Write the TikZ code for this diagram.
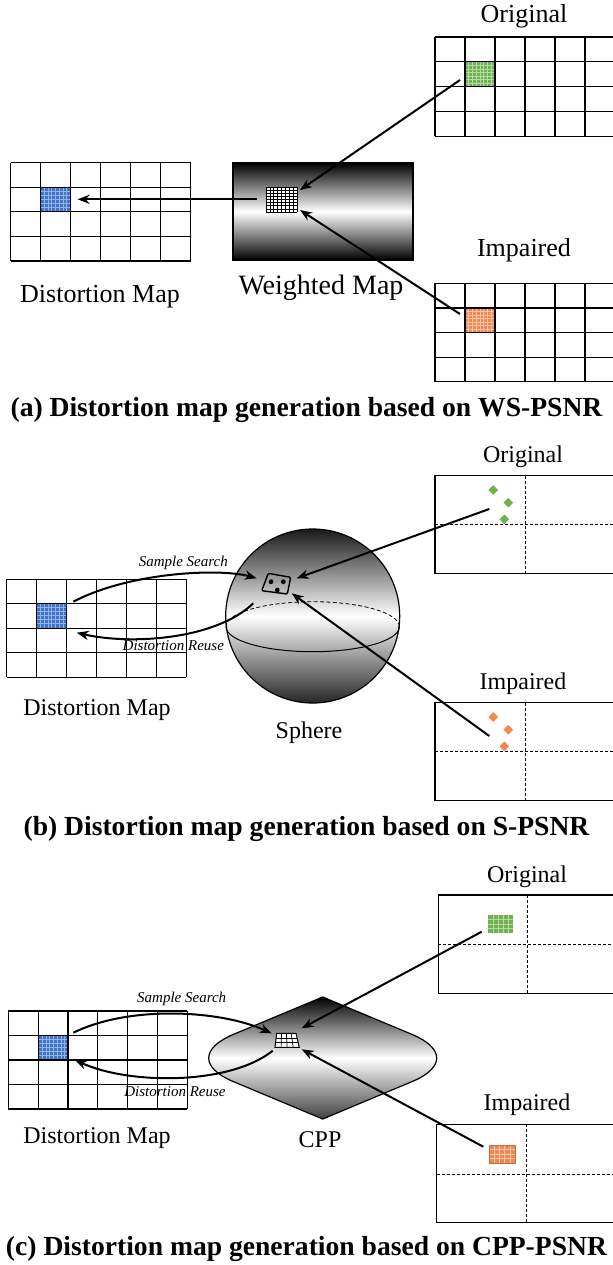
\documentclass[tikz,border=0pt]{standalone}
\usepackage{fontspec}
\setmainfont{Liberation Serif}
\usetikzlibrary{arrows.meta,shapes.geometric,calc}

\definecolor{cellblue}{RGB}{62,116,204}
\definecolor{cellgreen}{RGB}{112,178,78}
\definecolor{cellorange}{RGB}{240,136,80}

% 6 x 4 map grid: top-left x, y, column width, row height
\newcommand{\mapgrid}[4]{%
  \foreach \i in {0,...,6} \draw[gridline] ({#1+\i*#3},#2) -- ({#1+\i*#3},{#2+4*#4});
  \foreach \j in {0,...,4} \draw[gridline] (#1,{#2+\j*#4}) -- ({#1+6*#3},{#2+\j*#4});
}
% filled block with a fine grid: x, y, w, h, fill, line colour, inner lines x, inner lines y
\newcommand{\finepatch}[8]{%
  \fill[#5] (#1,#2) rectangle ++(#3,#4);
  \foreach \k in {1,...,#7} \draw[#6,line width=0.3pt] ({#1+\k*#3/(#7+1)},#2) -- ++(0,#4);
  \foreach \k in {1,...,#8} \draw[#6,line width=0.3pt] (#1,{#2+\k*#4/(#8+1)}) -- ++(#3,0);
}

\begin{document}
\begin{tikzpicture}[x=0.5pt,y=-0.5pt,
    gridline/.style={draw=black, line width=0.6pt},
    framebox/.style={draw=black, line width=0.6pt},
    cutline/.style={black, line width=0.5pt, dash pattern=on 1.5pt off 1pt},
    arrowline/.style={-{Stealth[length=6pt,width=4.6pt]}, line width=1pt},
    labeltext/.style={font=\fontsize{12}{14}\selectfont},
    labelbig/.style={font=\fontsize{13}{15}\selectfont},
    smalltext/.style={font=\fontsize{7.5}{9}\selectfont\itshape},
    captiontext/.style={font=\fontsize{13.8}{16}\selectfont\bfseries},
    greensample/.style={diamond, fill=cellgreen, inner sep=0pt, minimum size=5pt},
    orangesample/.style={diamond, fill=cellorange, inner sep=0pt, minimum size=5pt}]
\useasboundingbox (0,0) rectangle (613,1265);

% ---------- (a) WS-PSNR ----------
\node[labelbig] (origLabA) at (524,16) {Original};
\finepatch{465}{61.8}{30}{24.8}{cellgreen}{cellgreen!50!white}{7}{6}
\mapgrid{435}{37}{30}{24.8}
\node[labelbig] (impLabA) at (524,250) {Impaired};
\finepatch{465}{307.9}{30}{24.6}{cellorange}{cellorange!50!white}{7}{6}
\mapgrid{435}{283.3}{30}{24.6}

\finepatch{40.5}{187.1}{30}{24.6}{cellblue}{cellblue!55!white}{7}{5}
\mapgrid{10.5}{162.5}{30}{24.6}
\node[labelbig] (distLabA) at (100,297) {Distortion Map};

\node[draw, line width=0.7pt, top color=black, bottom color=black, middle color=white,
  minimum width=90pt, minimum height=48.5pt, inner sep=0pt] (wmap) at (323,211.5) {};
\fill[white] (266,187) rectangle (297,212);
\foreach \k in {0,...,8} \draw[line width=0.35pt] ({266+\k*31/8},187) -- ++(0,25);
\foreach \k in {0,...,8} \draw[line width=0.35pt] (266,{187+\k*25/8}) -- ++(31,0);
\node[font=\fontsize{14}{16}\selectfont] (wmapLab) at (321,288) {Weighted Map};

\coordinate (wmOut) at (256.7,199.3);
\coordinate (distInA) at (77.7,199.3);
\coordinate (origOutA) at (460,80);
\coordinate (wmInTop) at (300,190);
\coordinate (impOutA) at (460,314);
\coordinate (wmInBot) at (300,210);
\draw[arrowline] (wmOut) -- (distInA);
\draw[arrowline] (origOutA) -- (wmInTop);
\draw[arrowline] (impOutA) -- (wmInBot);

\node[captiontext] (capA) at (306.5,410) {(a) Distortion map generation based on WS-PSNR};

% ---------- (b) S-PSNR ----------
\node[labeltext] (origLabB) at (523,457) {Original};
\draw[framebox] (625,475.7) -- (435,475.7) -- (435,573.3) -- (625,573.3);
\draw[cutline] (525,475.7) -- (525,573.3);
\draw[cutline] (435,524.3) -- (625,524.3);
\node[greensample] (gs1) at (493.3,490) {};
\node[greensample] (gs2) at (508.3,502.7) {};
\node[greensample] (gs3) at (504.3,519.3) {};

\node[labeltext] (impLabB) at (523,684) {Impaired};
\draw[framebox] (625,702.7) -- (435,702.7) -- (435,800.3) -- (625,800.3);
\draw[cutline] (525,702.7) -- (525,800.3);
\draw[cutline] (435,751.3) -- (625,751.3);
\node[orangesample] (os1) at (493.3,717) {};
\node[orangesample] (os2) at (508.3,729.7) {};
\node[orangesample] (os3) at (504.3,746.3) {};

\finepatch{36.7}{603.3}{30}{24.5}{cellblue}{cellblue!55!white}{7}{5}
\mapgrid{6.7}{579.3}{29.9}{24.5}
\node[labeltext] (distLabB) at (97,710) {Distortion Map};

\node[circle, draw, line width=0.6pt, top color=black!90, bottom color=black!85, middle color=white,
  minimum size=87pt, inner sep=0pt] (sphere) at (312.7,616) {};
\draw[line width=0.4pt, dash pattern=on 2pt off 1.2pt] (399.4,626.7) arc[start angle=0, end angle=-180, x radius=86.7, y radius=25];
\draw[line width=0.5pt] (399.4,626.7) arc[start angle=0, end angle=180, x radius=86.7, y radius=25];
\draw[line width=0.7pt, rounded corners=0.6pt] (268.3,573.3) -- (290.7,577.3) -- (287.3,594) -- (261.7,590.7) -- cycle;
\fill (271,581.7) circle (2.4) (283.3,581.7) circle (2.4) (277.3,590) circle (2.4);
\node[labeltext] (sphereLab) at (309,733) {Sphere};

\coordinate (origOutB) at (489.3,509);
\coordinate (sphInTop) at (296.7,578.3);
\coordinate (impOutB) at (489.3,736);
\coordinate (sphInBot) at (291.7,593.3);
\coordinate (distOutB) at (73.3,601.7);
\coordinate (sphSearch) at (256.7,578.3);
\coordinate (sphReuse) at (253.3,603.3);
\coordinate (distInB) at (76.7,632.7);
\draw[arrowline] (origOutB) -- (sphInTop);
\draw[arrowline] (impOutB) -- (sphInBot);
\draw[arrowline] (distOutB) .. controls (130,572) and (220,568) .. (sphSearch);
\draw[arrowline] (sphReuse) .. controls (215,640) and (130,645) .. (distInB);
\node[smalltext] (searchLabB) at (183.3,562.7) {Sample Search};
\node[smalltext] (reuseLabB) at (173.3,646) {Distortion Reuse};

\node[captiontext] (capB) at (306.5,829) {(b) Distortion map generation based on S-PSNR};

% ---------- (c) CPP-PSNR ----------
\node[labeltext] (origLabC) at (527,877) {Original};
\draw[framebox] (625,895) -- (438.3,895) -- (438.3,993.3) -- (625,993.3);
\draw[cutline] (527.3,895) -- (527.3,993.3);
\draw[cutline] (438.3,944) -- (625,944);
\finepatch{488.3}{915}{25}{18.3}{cellgreen}{cellgreen!50!white}{4}{3}

\node[labeltext] (impLabC) at (527,1105) {Impaired};
\draw[framebox] (625,1124.3) -- (436.7,1124.3) -- (436.7,1222.6) -- (625,1222.6);
\draw[cutline] (526,1124.3) -- (526,1222.6);
\draw[cutline] (436.7,1174.3) -- (625,1174.3);
\finepatch{489.3}{1145}{25.7}{18.3}{cellorange}{cellorange!45!white}{4}{3}
\draw[cellorange!80!black, line width=0.4pt] (489.3,1145) rectangle ++(25.7,18.3);

\finepatch{38.3}{1035}{30}{24.5}{cellblue}{cellblue!55!white}{7}{5}
\mapgrid{8.3}{1011}{29.85}{24.5}
\node[labeltext] (distLabC) at (97,1138) {Distortion Map};

% projection outline: ellipse plus top and bottom apex
\shade[top color=black, bottom color=black!75, middle color=white, draw=black, line width=0.6pt]
  (322.7,997) -- ($(322.7,1058)+(-38.5:114 and 38)$)
  arc[start angle=-38.5, end angle=38.5, x radius=114, y radius=38]
  -- (322.7,1119) -- ($(322.7,1058)+(141.5:114 and 38)$)
  arc[start angle=141.5, end angle=218.5, x radius=114, y radius=38] -- cycle;
\coordinate (cppTL) at (276.7,1033.3);
\coordinate (cppTR) at (296,1033.3);
\coordinate (cppBR) at (299.3,1047.3);
\coordinate (cppBL) at (275,1047.3);
\fill[white] (cppTL) -- (cppTR) -- (cppBR) -- (cppBL) -- cycle;
\foreach \t in {0.25,0.5,0.75} \draw[line width=0.35pt] ($(cppTL)!\t!(cppTR)$) -- ($(cppBL)!\t!(cppBR)$);
\foreach \t in {0.333,0.667} \draw[line width=0.35pt] ($(cppTL)!\t!(cppBL)$) -- ($(cppTR)!\t!(cppBR)$);
\draw[line width=0.5pt] (cppTL) -- (cppTR) -- (cppBR) -- (cppBL) -- cycle;
\node[labeltext] (cppLab) at (320,1140) {CPP};

\coordinate (origOutC) at (481.7,931.7);
\coordinate (cppInTop) at (301.7,1028.3);
\coordinate (impOutC) at (483.3,1146.7);
\coordinate (cppInBot) at (301.7,1049.3);
\coordinate (distOutC) at (73.3,1032.7);
\coordinate (cppSearch) at (271.7,1033.3);
\coordinate (cppReuse) at (272.7,1050.7);
\coordinate (distInC) at (75,1060);
\draw[arrowline] (origOutC) -- (cppInTop);
\draw[arrowline] (impOutC) -- (cppInBot);
\draw[arrowline] (distOutC) .. controls (130,1005) and (220,1010) .. (cppSearch);
\draw[arrowline] (cppReuse) .. controls (230,1085) and (130,1085) .. (distInC);
\node[smalltext] (searchLabC) at (181.7,999.3) {Sample Search};
\node[smalltext] (reuseLabC) at (175,1091.7) {Distortion Reuse};

\node[captiontext] (capC) at (306.5,1249) {(c) Distortion map generation based on CPP-PSNR};
\end{tikzpicture}
\end{document}
